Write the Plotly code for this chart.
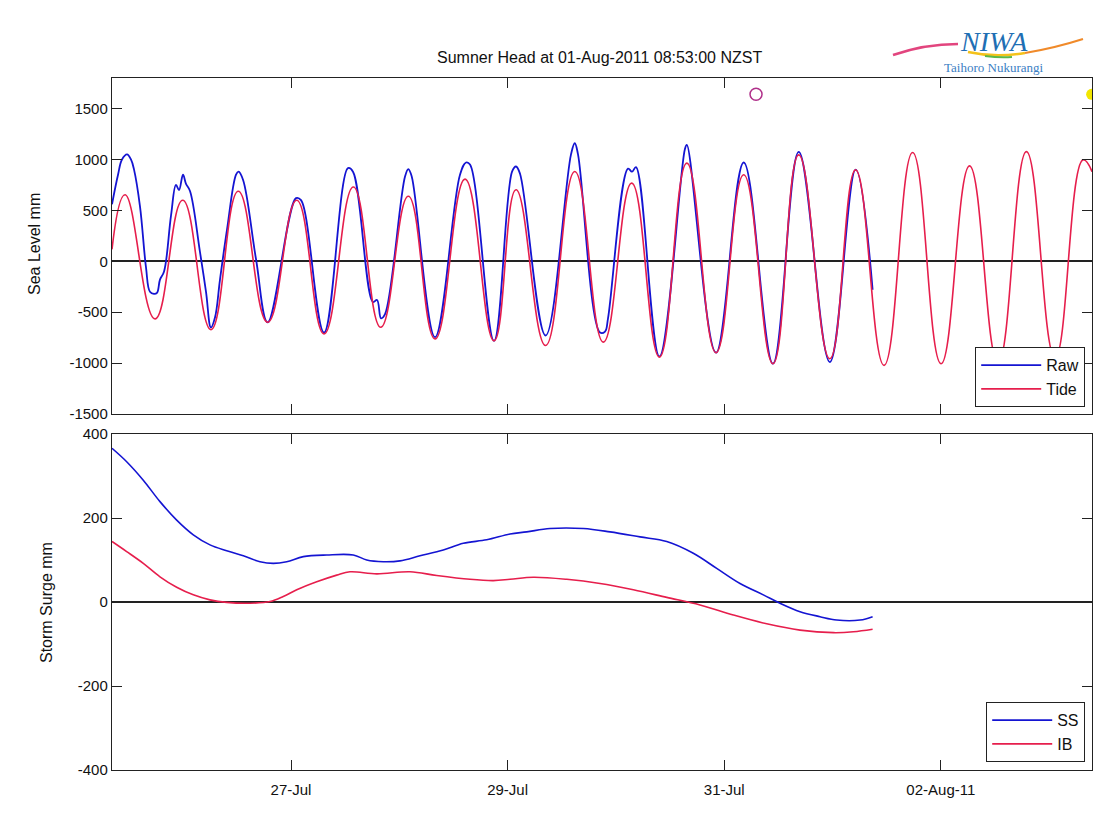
import plotly.graph_objects as go

# ---------------- data ----------------
# Top panel: Sea level (mm)
raw_time = [
    "2011-07-25 08:20", "2011-07-25 09:40", "2011-07-25 10:33", "2011-07-25 11:40", "2011-07-25 12:32",
    "2011-07-25 13:13", "2011-07-25 14:32", "2011-07-25 15:52", "2011-07-25 16:45", "2011-07-25 17:38",
    "2011-07-25 18:18", "2011-07-25 18:58", "2011-07-25 19:52", "2011-07-25 21:25", "2011-07-25 22:31",
    "2011-07-25 23:11", "2011-07-26 00:04", "2011-07-26 00:44", "2011-07-26 01:37", "2011-07-26 03:50",
    "2011-07-26 05:10", "2011-07-26 06:16", "2011-07-26 07:10", "2011-07-26 08:16", "2011-07-26 09:49",
    "2011-07-26 11:49", "2011-07-26 12:22", "2011-07-26 13:22", "2011-07-26 16:15", "2011-07-26 18:50",
    "2011-07-27 01:07", "2011-07-27 02:13", "2011-07-27 07:19", "2011-07-27 12:38", "2011-07-27 13:44",
    "2011-07-27 18:10", "2011-07-27 19:04", "2011-07-27 19:57", "2011-07-27 20:50", "2011-07-28 01:16",
    "2011-07-28 02:00", "2011-07-28 02:45", "2011-07-28 07:55", "2011-07-28 13:27", "2011-07-28 14:47",
    "2011-07-28 15:40", "2011-07-28 20:59", "2011-07-29 00:59", "2011-07-29 01:52", "2011-07-29 02:45",
    "2011-07-29 08:25", "2011-07-29 14:03", "2011-07-29 14:53", "2011-07-29 15:36", "2011-07-29 20:29",
    "2011-07-29 21:35", "2011-07-29 22:15", "2011-07-30 02:41", "2011-07-30 03:34", "2011-07-30 04:27",
    "2011-07-30 09:38", "2011-07-30 15:17", "2011-07-30 15:43", "2011-07-30 22:11", "2011-07-31 04:19",
    "2011-07-31 10:48", "2011-07-31 16:31", "2011-07-31 23:24", "2011-08-01 05:07", "2011-08-01 08:53",
]
raw_mm = [
    560, 850, 1000, 1050, 1000,
    900, 540, -60, -300, -320,
    -310, -180, -100, 450, 750,
    700, 850, 760, 690, 90,
    -300, -650, -550, -180, 310,
    850, 880, 800, 20, -600,
    620, 600, -700, 915, 880,
    -400, -380, -560, -520, 833,
    905, 833, -745, 850, 970,
    950, -781, 880, 931, 860,
    -729, 1050, 1159, 1050, -700,
    -690, -560, 910, 880, 924,
    -935, 1100, 1143, -898, 970,
    -1006, 1074, -990, 900, -280,
]

tide_time = [
    "2011-07-25 08:20", "2011-07-25 11:13", "2011-07-25 17:52", "2011-07-26 00:00", "2011-07-26 06:16",
    "2011-07-26 12:19", "2011-07-26 18:50", "2011-07-27 01:16", "2011-07-27 07:19", "2011-07-27 13:49",
    "2011-07-27 19:53", "2011-07-28 02:00", "2011-07-28 07:55", "2011-07-28 14:34", "2011-07-28 20:59",
    "2011-07-29 01:52", "2011-07-29 08:25", "2011-07-29 14:53", "2011-07-29 21:13", "2011-07-30 03:30",
    "2011-07-30 09:38", "2011-07-30 15:43", "2011-07-30 22:11", "2011-07-31 04:19", "2011-07-31 10:48",
    "2011-07-31 16:31", "2011-07-31 23:24", "2011-08-01 05:07", "2011-08-01 11:25", "2011-08-01 17:45",
    "2011-08-02 00:03", "2011-08-02 06:22", "2011-08-02 12:41", "2011-08-02 18:58", "2011-08-03 01:19",
    "2011-08-03 07:31", "2011-08-03 09:30",
]
tide_mm = [
    117, 654, -566, 599, -671,
    687, -599, 599, -713, 729,
    -648, 638, -762, 807, -781,
    703, -827, 882, -794, 768,
    -941, 964, -898, 850, -1006,
    1045, -957, 898, -1022, 1068,
    -1006, 937, -1000, 1077, -950,
    996, 880,
]

# Bottom panel: Storm surge (mm)
ss_time = [
    "2011-07-25 08:20", "2011-07-25 11:35", "2011-07-25 15:16", "2011-07-25 18:58", "2011-07-25 22:40",
    "2011-07-26 02:21", "2011-07-26 06:03", "2011-07-26 09:45", "2011-07-26 13:26", "2011-07-26 17:08",
    "2011-07-26 20:05", "2011-07-26 23:03", "2011-07-27 02:44", "2011-07-27 07:55", "2011-07-27 13:48",
    "2011-07-27 16:47", "2011-07-27 20:27", "2011-07-28 00:09", "2011-07-28 04:35", "2011-07-28 09:45",
    "2011-07-28 14:11", "2011-07-28 19:22", "2011-07-29 00:32", "2011-07-29 04:14", "2011-07-29 09:24",
    "2011-07-29 16:47", "2011-07-29 22:42", "2011-07-30 05:21", "2011-07-30 11:16", "2011-07-30 17:09",
    "2011-07-30 22:20", "2011-07-31 03:30", "2011-07-31 08:40", "2011-07-31 12:22", "2011-07-31 16:48",
    "2011-07-31 21:14", "2011-08-01 00:56", "2011-08-01 06:06", "2011-08-01 08:53",
]
ss_mm = [
    366, 334, 290, 239, 195,
    160, 136, 122, 110, 96,
    92, 96, 108, 112, 112,
    100, 96, 98, 110, 124,
    140, 148, 162, 167, 175,
    175, 167, 155, 144, 116,
    80, 44, 17, -3, -23,
    -35, -43, -43, -35,
]

ib_time = [
    "2011-07-25 08:20", "2011-07-25 11:35", "2011-07-25 15:16", "2011-07-25 18:58", "2011-07-25 22:40",
    "2011-07-26 02:21", "2011-07-26 06:03", "2011-07-26 09:45", "2011-07-26 14:55", "2011-07-26 19:21",
    "2011-07-26 22:17", "2011-07-27 01:16", "2011-07-27 05:42", "2011-07-27 10:08", "2011-07-27 13:04",
    "2011-07-27 19:00", "2011-07-28 02:22", "2011-07-28 08:17", "2011-07-28 15:40", "2011-07-28 20:50",
    "2011-07-29 00:32", "2011-07-29 05:42", "2011-07-29 13:06", "2011-07-29 20:29", "2011-07-30 03:52",
    "2011-07-30 11:16", "2011-07-30 18:38", "2011-07-31 02:01", "2011-07-31 09:25", "2011-07-31 16:48",
    "2011-08-01 00:11", "2011-08-01 04:37", "2011-08-01 08:53",
]
ib_mm = [
    144, 120, 92, 60, 35,
    17, 5, -1, -3, 1,
    13, 29, 48, 64, 72,
    67, 72, 63, 54, 51,
    54, 59, 54, 44, 29,
    11, -7, -31, -52, -67,
    -73, -71, -65,
]

# status markers at the top of the sea level panel
mark_time = ["2011-07-31 07:03"]
mark_mm = [1640]
now_time = ["2011-08-03 09:25"]
now_mm = [1640]

x_range = ["2011-07-25 08:20", "2011-08-03 09:30"]
x_ticks = ["2011-07-27", "2011-07-29", "2011-07-31", "2011-08-02"]
x_tick_labels = ["27-Jul", "29-Jul", "31-Jul", "02-Aug-11"]
sea_ticks = [-1500, -1000, -500, 0, 500, 1000, 1500]
sea_tick_labels = ["-1500", "-1000", "-500", "0", "500", "1000", "1500"]
surge_ticks = [-400, -200, 0, 200, 400]
surge_tick_labels = ["-400", "-200", "0", "200", "400"]

# ---------------- figure ----------------
W, H = 1095, 828
ML, MR, MT, MB = 112, 3, 78, 58
PW = W - ML - MR
PH = H - MT - MB


def px(xp):
    return (xp - ML) / PW


def py(yp):
    return (H - MB - yp) / PH


FONT = "Liberation Sans, Arial, sans-serif"
BLUE = "#1414d2"
RED = "#e61e4c"
AX = "#222222"

fig = go.Figure()
fig.add_trace(go.Scatter(x=raw_time, y=raw_mm, name="Raw", mode="lines",
                         line=dict(color=BLUE, width=1.8, shape="spline", smoothing=1.1),
                         xaxis="x", yaxis="y", legend="legend"))
fig.add_trace(go.Scatter(x=tide_time, y=tide_mm, name="Tide", mode="lines",
                         line=dict(color=RED, width=1.6, shape="spline", smoothing=1.3),
                         xaxis="x", yaxis="y", legend="legend"))
fig.add_trace(go.Scatter(x=mark_time, y=mark_mm, mode="markers", showlegend=False,
                         marker=dict(symbol="circle-open", size=12, color="#b0308a",
                                     line=dict(width=1.5)),
                         xaxis="x", yaxis="y"))
fig.add_trace(go.Scatter(x=now_time, y=now_mm, mode="markers", showlegend=False,
                         marker=dict(symbol="circle", size=11, color="#f2e600"),
                         xaxis="x", yaxis="y"))
fig.add_trace(go.Scatter(x=ss_time, y=ss_mm, name="SS", mode="lines",
                         line=dict(color=BLUE, width=1.6, shape="spline", smoothing=1.0),
                         xaxis="x2", yaxis="y2", legend="legend2"))
fig.add_trace(go.Scatter(x=ib_time, y=ib_mm, name="IB", mode="lines",
                         line=dict(color=RED, width=1.6, shape="spline", smoothing=1.0),
                         xaxis="x2", yaxis="y2", legend="legend2"))

common_axis = dict(showline=True, linecolor=AX, linewidth=1.4, mirror="ticks",
                   ticks="inside", ticklen=10, tickcolor=AX, tickwidth=1.2,
                   showgrid=False, tickfont=dict(family=FONT, size=15, color="#111"))

top_dom = [py(414), py(78)]
bot_dom = [py(770), py(434)]

fig.update_layout(
    width=W, height=H, autosize=False,
    margin=dict(l=ML, r=MR, t=MT, b=MB),
    paper_bgcolor="white", plot_bgcolor="white",
    font=dict(family=FONT, size=15, color="#111"),
    xaxis=dict(common_axis, domain=[0, 1], anchor="y", type="date", range=x_range,
               tickvals=x_ticks, ticktext=x_tick_labels, showticklabels=False,
               zeroline=False),
    xaxis2=dict(common_axis, domain=[0, 1], anchor="y2", type="date", range=x_range,
                tickvals=x_ticks, ticktext=x_tick_labels, matches="x", zeroline=False,
                ticklabelstandoff=6),
    yaxis=dict(common_axis, domain=top_dom, anchor="x", range=[-1500, 1800],
               tickvals=sea_ticks, ticktext=sea_tick_labels,
               zeroline=True, zerolinecolor=AX, zerolinewidth=1.6),
    yaxis2=dict(common_axis, domain=bot_dom, anchor="x2", range=[-400, 400],
                tickvals=surge_ticks, ticktext=surge_tick_labels,
                zeroline=True, zerolinecolor=AX, zerolinewidth=1.6),
    legend=dict(x=px(1085), y=py(407), xanchor="right", yanchor="bottom",
                bordercolor=AX, borderwidth=1.2, bgcolor="white",
                font=dict(family=FONT, size=16, color="#111"), itemwidth=60,
                tracegroupgap=4),
    legend2=dict(x=px(1085), y=py(762), xanchor="right", yanchor="bottom",
                 bordercolor=AX, borderwidth=1.2, bgcolor="white",
                 font=dict(family=FONT, size=16, color="#111"), itemwidth=60,
                 tracegroupgap=4),
    showlegend=True,
)

annotations = [
    dict(text="Sumner Head at 01-Aug-2011 08:53:00 NZST", x=px(599), y=py(57),
         xref="paper", yref="paper", showarrow=False, xanchor="center", yanchor="middle",
         font=dict(family=FONT, size=16, color="#111")),
    dict(text="Sea Level mm", x=px(35), y=py(244), xref="paper", yref="paper",
         showarrow=False, textangle=-90, xanchor="center", yanchor="middle",
         font=dict(family=FONT, size=16, color="#111")),
    dict(text="Storm Surge mm", x=px(46), y=py(603), xref="paper", yref="paper",
         showarrow=False, textangle=-90, xanchor="center", yanchor="middle",
         font=dict(family=FONT, size=16, color="#111")),
    dict(text="<i>NIWA</i>", x=px(994), y=py(41), xref="paper", yref="paper",
         showarrow=False, xanchor="center", yanchor="middle",
         font=dict(family="Liberation Serif, serif", size=28, color="#1f6fb4")),
    dict(text="Taihoro Nukurangi", x=px(993), y=py(68), xref="paper", yref="paper",
         showarrow=False, xanchor="center", yanchor="middle",
         font=dict(family="Liberation Serif, serif", size=13, color="#3b80c4")),
]
fig.update_layout(annotations=annotations)


def path(points):
    (x0, y0), (cx, cy), (x1, y1) = points
    return f"M {px(x0)},{py(y0)} Q {px(cx)},{py(cy)} {px(x1)},{py(y1)}"


shapes = [
    dict(type="path", xref="paper", yref="paper",
         path=path([(893, 55), (925, 44), (958, 44)]),
         line=dict(color="#e2457e", width=2.5)),
    dict(type="path", xref="paper", yref="paper",
         path=path([(968, 52), (995, 58), (1025, 53)]),
         line=dict(color="#f4c21a", width=2.5)),
    dict(type="path", xref="paper", yref="paper",
         path=path([(1025, 53), (1055, 48), (1083, 39)]),
         line=dict(color="#f08a2a", width=2.2)),
    dict(type="path", xref="paper", yref="paper",
         path=path([(985, 56), (1000, 58), (1012, 57)]),
         line=dict(color="#5cb848", width=2)),
]
fig.update_layout(shapes=shapes)

fig.write_html("out.html", config={"displayModeBar": False},
               post_script="document.body.style.margin='0';")
